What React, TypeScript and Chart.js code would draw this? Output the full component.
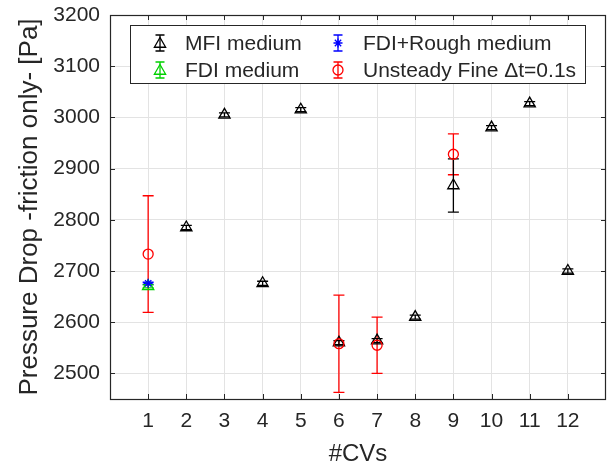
import { useEffect, useRef } from 'react';
import { Chart, registerables } from 'chart.js';

Chart.register(...registerables);

// ---- data ----
const xTicks = [1, 2, 3, 4, 5, 6, 7, 8, 9, 10, 11, 12];
const yTicks = [2500, 2600, 2700, 2800, 2900, 3000, 3100, 3200];
const xMin = 0;
const xMax = 13;
const yMin = 2450;
const yMax = 3200;

const mfiCVs = [2, 3, 4, 5, 6, 7, 8, 9, 10, 11, 12];
const mfiValues = [2785, 3005, 2676, 3015, 2560, 2564, 2610, 2867, 2980, 3027, 2700];
const mfiErrors = [4, 4, 4, 4, 4, 4, 4, 52, 4, 4, 4];

const fdiCVs = [1];
const fdiValues = [2670];
const fdiErrors = [3];

const roughCVs = [1];
const roughValues = [2676];
const roughErrors = [2];

const unsteadyCVs = [1, 6, 7, 9];
const unsteadyValues = [2733, 2558, 2555, 2928];
const unsteadyErrors = [114, 95, 55, 40];

const seriesLabels = ['MFI medium', 'FDI medium', 'FDI+Rough medium', 'Unsteady Fine \u0394t=0.1s'];
const seriesColors = ['#000000', '#00d000', '#0000ff', '#ff0000'];
const seriesStyles = ['triangle', 'triangle', 'star', 'circle'];

const xTitle = '#CVs';
const yTitle = 'Pressure Drop -friction only- [Pa]';

const FONT = "'Liberation Sans', Arial, sans-serif";
const AXIS = '#262626';

function drawMarker(ctx: CanvasRenderingContext2D, style: string, color: string, x: number, y: number) {
  ctx.save();
  ctx.strokeStyle = color;
  ctx.lineWidth = 1.3;
  ctx.beginPath();
  if (style === 'triangle') {
    const r = 6.5;
    ctx.moveTo(x, y - r);
    ctx.lineTo(x + r * 0.866, y + r * 0.5);
    ctx.lineTo(x - r * 0.866, y + r * 0.5);
    ctx.closePath();
  } else if (style === 'circle') {
    ctx.arc(x, y, 5, 0, Math.PI * 2);
  } else {
    const r = 4.5;
    for (let i = 0; i < 4; i++) {
      const a = (i * Math.PI) / 4;
      ctx.moveTo(x - Math.sin(a) * r, y - Math.cos(a) * r);
      ctx.lineTo(x + Math.sin(a) * r, y + Math.cos(a) * r);
    }
  }
  ctx.stroke();
  ctx.restore();
}

const errorBarPlugin = {
  id: 'errorBars',
  beforeDatasetsDraw(chart: any) {
    const ctx = chart.ctx;
    const xs = chart.scales.x;
    const ys = chart.scales.y;
    chart.data.datasets.forEach((ds: any) => {
      const errs: number[] = ds.errors || [];
      ctx.save();
      ctx.strokeStyle = ds.borderColor;
      ctx.lineWidth = 1.3;
      ds.data.forEach((p: any, i: number) => {
        const e = errs[i] || 0;
        if (!e) return;
        const px = xs.getPixelForValue(p.x);
        const top = ys.getPixelForValue(p.y + e);
        const bot = ys.getPixelForValue(p.y - e);
        ctx.beginPath();
        ctx.moveTo(px, top);
        ctx.lineTo(px, bot);
        ctx.moveTo(px - 5.5, top);
        ctx.lineTo(px + 5.5, top);
        ctx.moveTo(px - 5.5, bot);
        ctx.lineTo(px + 5.5, bot);
        ctx.stroke();
      });
      ctx.restore();
    });
  },
};

const boxPlugin = {
  id: 'matlabBox',
  beforeDatasetsDraw(chart: any) {
    const ctx = chart.ctx;
    const { left, right, top, bottom } = chart.chartArea;
    const xs = chart.scales.x;
    const ys = chart.scales.y;
    ctx.save();
    ctx.strokeStyle = AXIS;
    ctx.lineWidth = 1;
    ctx.beginPath();
    const tl = 5;
    xTicks.forEach((v) => {
      const px = Math.round(xs.getPixelForValue(v)) + 0.5;
      ctx.moveTo(px, bottom);
      ctx.lineTo(px, bottom - tl);
      ctx.moveTo(px, top);
      ctx.lineTo(px, top + tl);
    });
    yTicks.forEach((v) => {
      const py = Math.round(ys.getPixelForValue(v)) + 0.5;
      ctx.moveTo(left, py);
      ctx.lineTo(left + tl, py);
      ctx.moveTo(right, py);
      ctx.lineTo(right - tl, py);
    });
    ctx.stroke();
    ctx.lineWidth = 1.2;
    ctx.strokeRect(Math.round(left) + 0.5, Math.round(top) + 0.5, Math.round(right - left) - 1, Math.round(bottom - top));
    ctx.restore();
  },
};

const legendPlugin = {
  id: 'matlabLegend',
  afterDraw(chart: any) {
    const ctx = chart.ctx;
    const bx = 130, by = 25, bw = 455, bh = 58;
    ctx.save();
    ctx.fillStyle = '#ffffff';
    ctx.fillRect(bx, by, bw, bh);
    ctx.strokeStyle = AXIS;
    ctx.lineWidth = 1;
    ctx.strokeRect(bx + 0.5, by + 0.5, bw, bh);
    const pos = [
      [160, 43],
      [160, 70],
      [338, 43],
      [338, 70],
    ];
    ctx.font = `21px ${FONT}`;
    ctx.textBaseline = 'middle';
    ctx.textAlign = 'left';
    seriesLabels.forEach((label, i) => {
      const [mx, my] = pos[i];
      const color = seriesColors[i];
      ctx.strokeStyle = color;
      ctx.lineWidth = 1.3;
      ctx.beginPath();
      ctx.moveTo(mx, my - 8);
      ctx.lineTo(mx, my + 8);
      ctx.moveTo(mx - 4.5, my - 8);
      ctx.lineTo(mx + 4.5, my - 8);
      ctx.moveTo(mx - 4.5, my + 8);
      ctx.lineTo(mx + 4.5, my + 8);
      ctx.stroke();
      drawMarker(ctx, seriesStyles[i], color, mx, my + (seriesStyles[i] === 'triangle' ? 1 : 0));
      ctx.fillStyle = AXIS;
      ctx.fillText(label, mx + 25, my + 1);
    });
    ctx.restore();
  },
};

function mk(cvsArr: number[], vals: number[], errs: number[], idx: number) {
  return {
    label: seriesLabels[idx],
    data: cvsArr.map((c, i) => ({ x: c, y: vals[i] })),
    errors: errs,
    borderColor: seriesColors[idx],
    backgroundColor: 'rgba(0,0,0,0)',
    pointStyle: seriesStyles[idx],
    pointRadius: seriesStyles[idx] === 'triangle' ? 6.5 : seriesStyles[idx] === 'circle' ? 5 : 4.5,
    pointBorderWidth: 1.3,
    showLine: false,
  };
}

export default function App() {
  const ref = useRef<HTMLCanvasElement | null>(null);
  useEffect(() => {
    document.body.style.margin = '0';
    if (!ref.current) return;
    const chart = new Chart(ref.current, {
      type: 'scatter',
      data: {
        datasets: [
          mk(unsteadyCVs, unsteadyValues, unsteadyErrors, 3),
          mk(roughCVs, roughValues, roughErrors, 2),
          mk(fdiCVs, fdiValues, fdiErrors, 1),
          mk(mfiCVs, mfiValues, mfiErrors, 0),
        ] as any,
      },
      options: {
        responsive: false,
        animation: false,
        devicePixelRatio: 1,
        layout: { autoPadding: false, padding: { top: 15, right: 2, left: 0, bottom: 0 } },
        plugins: { legend: { display: false }, tooltip: { enabled: false } },
        scales: {
          x: {
            type: 'linear',
            min: xMin,
            max: xMax,
            afterBuildTicks: (s: any) => {
              s.ticks = xTicks.map((v) => ({ value: v }));
            },
            afterFit: (s: any) => {
              s.height = 71;
              s.paddingLeft = 0;
              s.paddingRight = 0;
            },
            grid: { color: '#e3e3e3', lineWidth: 1, drawTicks: false },
            border: { display: false },
            ticks: {
              color: AXIS,
              font: { family: FONT, size: 21 },
              padding: 10,
              maxRotation: 0,
              autoSkip: false,
              callback: (v: any) => String(v),
            },
            title: { display: true, text: xTitle, color: AXIS, font: { family: FONT, size: 24 }, padding: { top: 0, bottom: 1 } },
          },
          y: {
            type: 'linear',
            min: yMin,
            max: yMax,
            afterBuildTicks: (s: any) => {
              s.ticks = yTicks.map((v) => ({ value: v }));
            },
            afterFit: (s: any) => {
              s.width = 110;
              s.paddingTop = 0;
              s.paddingBottom = 0;
            },
            grid: { color: '#e3e3e3', lineWidth: 1, drawTicks: false },
            border: { display: false },
            ticks: {
              color: AXIS,
              font: { family: FONT, size: 21 },
              padding: 10,
              autoSkip: false,
              callback: (v: any) => String(v),
            },
            title: { display: true, text: yTitle, color: AXIS, font: { family: FONT, size: 26 }, padding: { top: 14, bottom: 0 } },
          },
        },
      } as any,
      plugins: [boxPlugin, errorBarPlugin, legendPlugin],
    });
    return () => chart.destroy();
  }, []);
  return (
    <div style={{ position: 'absolute', left: 0, top: 0, width: 608, height: 470 }}>
      <canvas ref={ref} width={608} height={470} style={{ display: 'block' }} />
    </div>
  );
}
